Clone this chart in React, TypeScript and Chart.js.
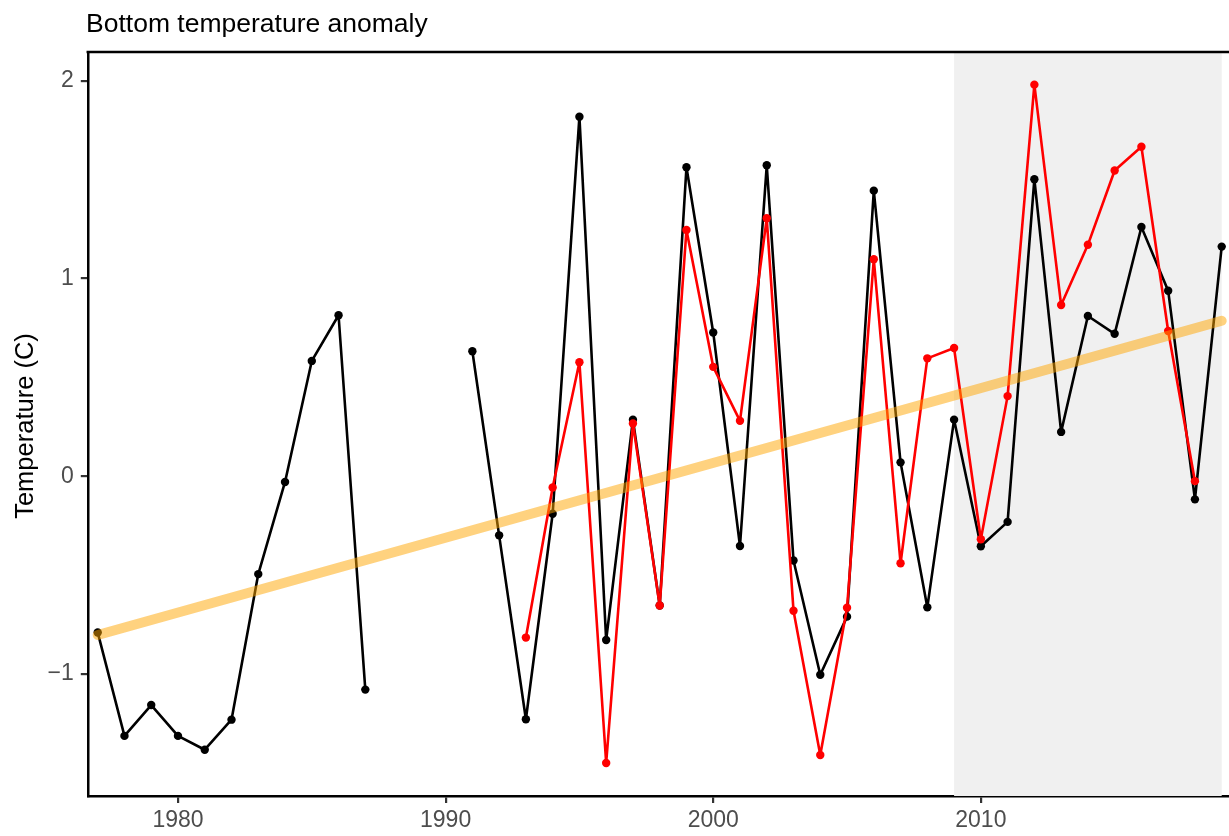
import React, { useEffect, useRef } from 'react';
import { Chart, registerables } from 'chart.js';

Chart.register(...registerables);

const years = [
  1977, 1978, 1979, 1980, 1981, 1982, 1983, 1984, 1985, 1986, 1987, 1988, 1989, 1990,
  1991, 1992, 1993, 1994, 1995, 1996, 1997, 1998, 1999, 2000, 2001, 2002, 2003, 2004,
  2005, 2006, 2007, 2008, 2009, 2010, 2011, 2012, 2013, 2014, 2015, 2016, 2017, 2018, 2019,
];
const blackValues: (number | null)[] = [
  -0.79, -1.313, -1.157, -1.313, -1.383, -1.231, -0.495, -0.029, 0.583, 0.814, -1.079, null, null, null,
  0.632, -0.299, -1.229, -0.19, 1.818, -0.828, 0.286, -0.654, 1.562, 0.727, -0.353, 1.572, -0.426, -1.004,
  -0.71, 1.444, 0.07, -0.663, 0.286, -0.354, -0.231, 1.502, 0.224, 0.81, 0.72, 1.26, 0.938, -0.117, 1.161,
];
const redYears = [
  1993, 1994, 1995, 1996, 1997, 1998, 1999, 2000, 2001, 2002, 2003, 2004, 2005,
  2006, 2007, 2008, 2009, 2010, 2011, 2012, 2013, 2014, 2015, 2016, 2017, 2018,
];
const redValues = [
  -0.816, -0.057, 0.576, -1.45, 0.267, -0.654, 1.245, 0.553, 0.28, 1.304, -0.68, -1.41, -0.665,
  1.097, -0.44, 0.596, 0.648, -0.319, 0.405, 1.98, 0.866, 1.17, 1.546, 1.666, 0.734, -0.025,
];
const trendYears = [1977, 2019];
const trendValues = [-0.803, 0.786];
const xTicks = [1980, 1990, 2000, 2010];
const yTicks = [-1, 0, 1, 2];
const shadeRange = [2009, 2019];
const titleText = 'Bottom temperature anomaly';
const yTitleText = 'Temperature (C)';

const FONT = "'Liberation Sans', Arial, sans-serif";

export default function App() {
  const ref = useRef<HTMLCanvasElement | null>(null);

  useEffect(() => {
    if (!ref.current) return;

    const decor = {
      id: 'decor',
      beforeDatasetsDraw(chart: any) {
        const { ctx, chartArea, scales } = chart;
        const x0 = scales.x.getPixelForValue(shadeRange[0]);
        const x1 = scales.x.getPixelForValue(shadeRange[1]);
        ctx.save();
        ctx.fillStyle = '#F0F0F0';
        ctx.fillRect(x0, chartArea.top, x1 - x0, chartArea.bottom - chartArea.top);
        ctx.restore();
      },
      afterDraw(chart: any) {
        const { ctx, chartArea } = chart;
        ctx.save();
        ctx.strokeStyle = '#000';
        ctx.lineWidth = 2.5;
        ctx.beginPath();
        ctx.moveTo(chartArea.left - 1.25, chartArea.top);
        ctx.lineTo(chart.width, chartArea.top);
        ctx.stroke();
        ctx.fillStyle = '#000';
        ctx.font = `26.5px ${FONT}`;
        ctx.textAlign = 'left';
        ctx.textBaseline = 'alphabetic';
        ctx.fillText(titleText, 86, 32);
        ctx.translate(33, (chartArea.top + chartArea.bottom) / 2 + 2);
        ctx.rotate(-Math.PI / 2);
        ctx.textAlign = 'center';
        ctx.font = `25.5px ${FONT}`;
        ctx.fillText(yTitleText, 0, 0);
        ctx.restore();
      },
    };

    const chart = new Chart(ref.current, {
      type: 'line',
      data: {
        datasets: [
          {
            label: 'trend',
            data: trendYears.map((x, i) => ({ x, y: trendValues[i] })),
            borderColor: 'rgba(255,165,0,0.5)',
            borderWidth: 10,
            borderCapStyle: 'round',
            pointRadius: 0,
            order: 0,
          },
          {
            label: 'red',
            data: redYears.map((x, i) => ({ x, y: redValues[i] })),
            borderColor: '#FF0000',
            backgroundColor: '#FF0000',
            borderWidth: 2.6,
            borderJoinStyle: 'round',
            pointRadius: 4.2,
            pointBorderWidth: 0,
            pointBackgroundColor: '#FF0000',
            order: 1,
          },
          {
            label: 'black',
            data: years.map((x, i) => ({ x, y: blackValues[i] })),
            borderColor: '#000000',
            backgroundColor: '#000000',
            borderWidth: 2.6,
            borderJoinStyle: 'round',
            pointRadius: 4.2,
            pointBorderWidth: 0,
            pointBackgroundColor: '#000000',
            spanGaps: false,
            order: 2,
          },
        ] as any,
      },
      options: {
        animation: false,
        responsive: false,
        devicePixelRatio: 1,
        layout: { padding: { top: 52, right: 8.4, left: 0, bottom: 0 } },
        plugins: {
          legend: { display: false },
          tooltip: { enabled: false },
          title: { display: false },
        },
        elements: { line: { tension: 0 } },
        scales: {
          x: {
            type: 'linear',
            min: 1976.63,
            max: 2019.37,
            afterBuildTicks: (s: any) => {
              s.ticks = xTicks.map((v) => ({ value: v }));
            },
            afterFit: (s: any) => {
              s.height = 40;
            },
            grid: {
              display: true,
              drawOnChartArea: false,
              drawTicks: true,
              tickLength: 7,
              color: '#333333',
              lineWidth: 2.2,
            },
            border: { display: true, color: '#000', width: 2.5 },
            ticks: {
              color: '#4D4D4D',
              font: { family: FONT, size: 23 },
              padding: 4,
              maxRotation: 0,
              autoSkip: false,
              callback: (v: any) => String(v),
            },
          },
          y: {
            type: 'linear',
            min: -1.617,
            max: 2.145,
            afterBuildTicks: (s: any) => {
              s.ticks = yTicks.map((v) => ({ value: v }));
            },
            afterFit: (s: any) => {
              s.width = 87.8;
            },
            grid: {
              display: true,
              drawOnChartArea: false,
              drawTicks: true,
              tickLength: 7,
              color: '#333333',
              lineWidth: 2.2,
            },
            border: { display: true, color: '#000', width: 2.5 },
            ticks: {
              color: '#4D4D4D',
              font: { family: FONT, size: 23 },
              padding: 7,
              callback: (v: any) => (v < 0 ? '\u2212' + Math.abs(v) : String(v)),
            },
          },
        },
      },
      plugins: [decor],
    } as any);

    return () => chart.destroy();
  }, []);

  return (
    <div style={{ position: 'absolute', left: 0, top: 0, width: 1229, height: 836, overflow: 'hidden', background: '#fff' }}>
      <canvas ref={ref} width={1240} height={836} style={{ width: 1240, height: 836, display: 'block' }} />
    </div>
  );
}
